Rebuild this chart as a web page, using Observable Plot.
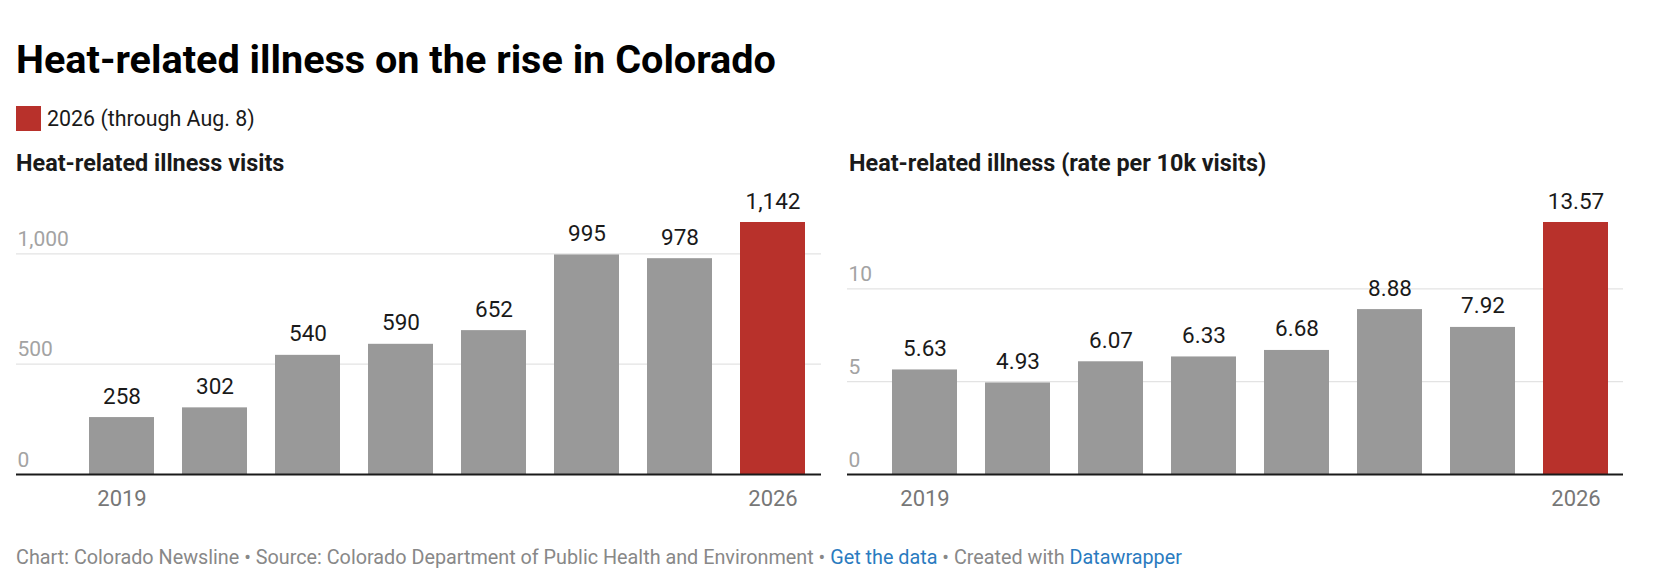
<!DOCTYPE html>
<html>
<head>
<meta charset="utf-8">
<script src="https://cdn.jsdelivr.net/npm/d3@7"></script>
<script src="https://cdn.jsdelivr.net/npm/@observablehq/plot@0.6"></script>
<style>
  html, body { margin: 0; padding: 0; background: #fff; }
  body { width: 1678px; height: 586px; position: relative; overflow: hidden; font-family: Roboto, "Noto Sans", sans-serif; }
  .abs { position: absolute; white-space: nowrap; }
  #title { left: 16px; top: 40px; font-size: 39.6px; line-height: 39.6px; font-weight: 700; color: #000; }
  #legend { left: 16px; top: 106px; height: 25px; display: flex; align-items: center; font-size: 21.4px; color: #1a1a1a; }
  #legend .sw { width: 25px; height: 25px; background: #b8312b; margin-right: 6px; }
  .sub { top: 152px; font-size: 23.4px; line-height: 23.4px; font-weight: 700; color: #1a1a1a; }
  #footer { left: 16px; top: 548px; font-size: 19.8px; line-height: 19.8px; color: #888; }
  #footer a { color: #2a7bc0; text-decoration: none; }
  .chart { position: absolute; top: 180px; }
</style>
</head>
<body>
<div id="title" class="abs">Heat-related illness on the rise in Colorado</div>
<div id="legend" class="abs"><span class="sw"></span><span>2026 (through Aug. 8)</span></div>
<div class="abs sub" style="left:16px">Heat-related illness visits</div>
<div class="abs sub" style="left:849px">Heat-related illness (rate per 10k visits)</div>
<div id="left" class="chart" style="left:16px"></div>
<div id="right" class="chart" style="left:847px"></div>
<div id="footer" class="abs">Chart: Colorado Newsline • Source: Colorado Department of Public Health and Environment • <a>Get the data</a> • Created with <a>Datawrapper</a></div>
<script>
const years = [2019, 2020, 2021, 2022, 2023, 2024, 2025, 2026];
const visits = [258, 302, 540, 590, 652, 995, 978, 1142];
const rates = [5.63, 4.93, 6.07, 6.33, 6.68, 8.88, 7.92, 13.57];
const highlightYear = 2026;
const xTickLabels = [2019, 2026];
const visitTicks = [0, 500, 1000];
const rateTicks = [0, 5, 10];

const GRAY = "#999999";
const RED = "#b8312b";

function chart({values, ticks, tickFormat, valueFormat, width, range}) {
  const data = years.map((year, i) => ({year, value: values[i]}));
  return Plot.plot({
    width,
    height: 350,
    marginTop: 42,
    marginBottom: 56,
    marginLeft: 0,
    marginRight: 0,
    x: {type: "band", domain: years, range, paddingInner: 0.3, paddingOuter: 0, axis: null},
    y: {domain: [0, d3.max(values)], axis: null},
    color: {type: "identity"},
    style: {fontFamily: "Roboto, sans-serif", background: "transparent", overflow: "visible"},
    marks: [
      Plot.ruleY(ticks.filter(t => t !== 0), {stroke: "#e3e3e3", strokeWidth: 1.2}),
      Plot.barY(data, {x: "year", y: "value", fill: d => d.year === highlightYear ? RED : GRAY}),
      Plot.ruleY([0], {stroke: "#1a1a1a", strokeWidth: 2}),
      Plot.text(ticks, {y: d => d, text: d => tickFormat(d), frameAnchor: "left", textAnchor: "start", lineAnchor: "bottom", dx: 1, dy: -8, fill: "#a3a3a3", fontSize: 21}),
      Plot.text(data, {x: "year", y: "value", text: d => valueFormat(d.value), lineAnchor: "bottom", dy: -14, fill: "#1a1a1a", fontSize: 22.5}),
      Plot.text(xTickLabels, {x: d => d, text: d => String(d), frameAnchor: "bottom", lineAnchor: "bottom", dy: 31, fill: "#777777", fontSize: 22})
    ]
  });
}

document.getElementById("left").append(chart({
  values: visits, ticks: visitTicks, tickFormat: d3.format(","), valueFormat: d3.format(","),
  width: 805, range: [72, 791]
}));
document.getElementById("right").append(chart({
  values: rates, ticks: rateTicks, tickFormat: d3.format("d"), valueFormat: d3.format(".2f"),
  width: 776, range: [44, 763]
}));
</script>
</body>
</html>
